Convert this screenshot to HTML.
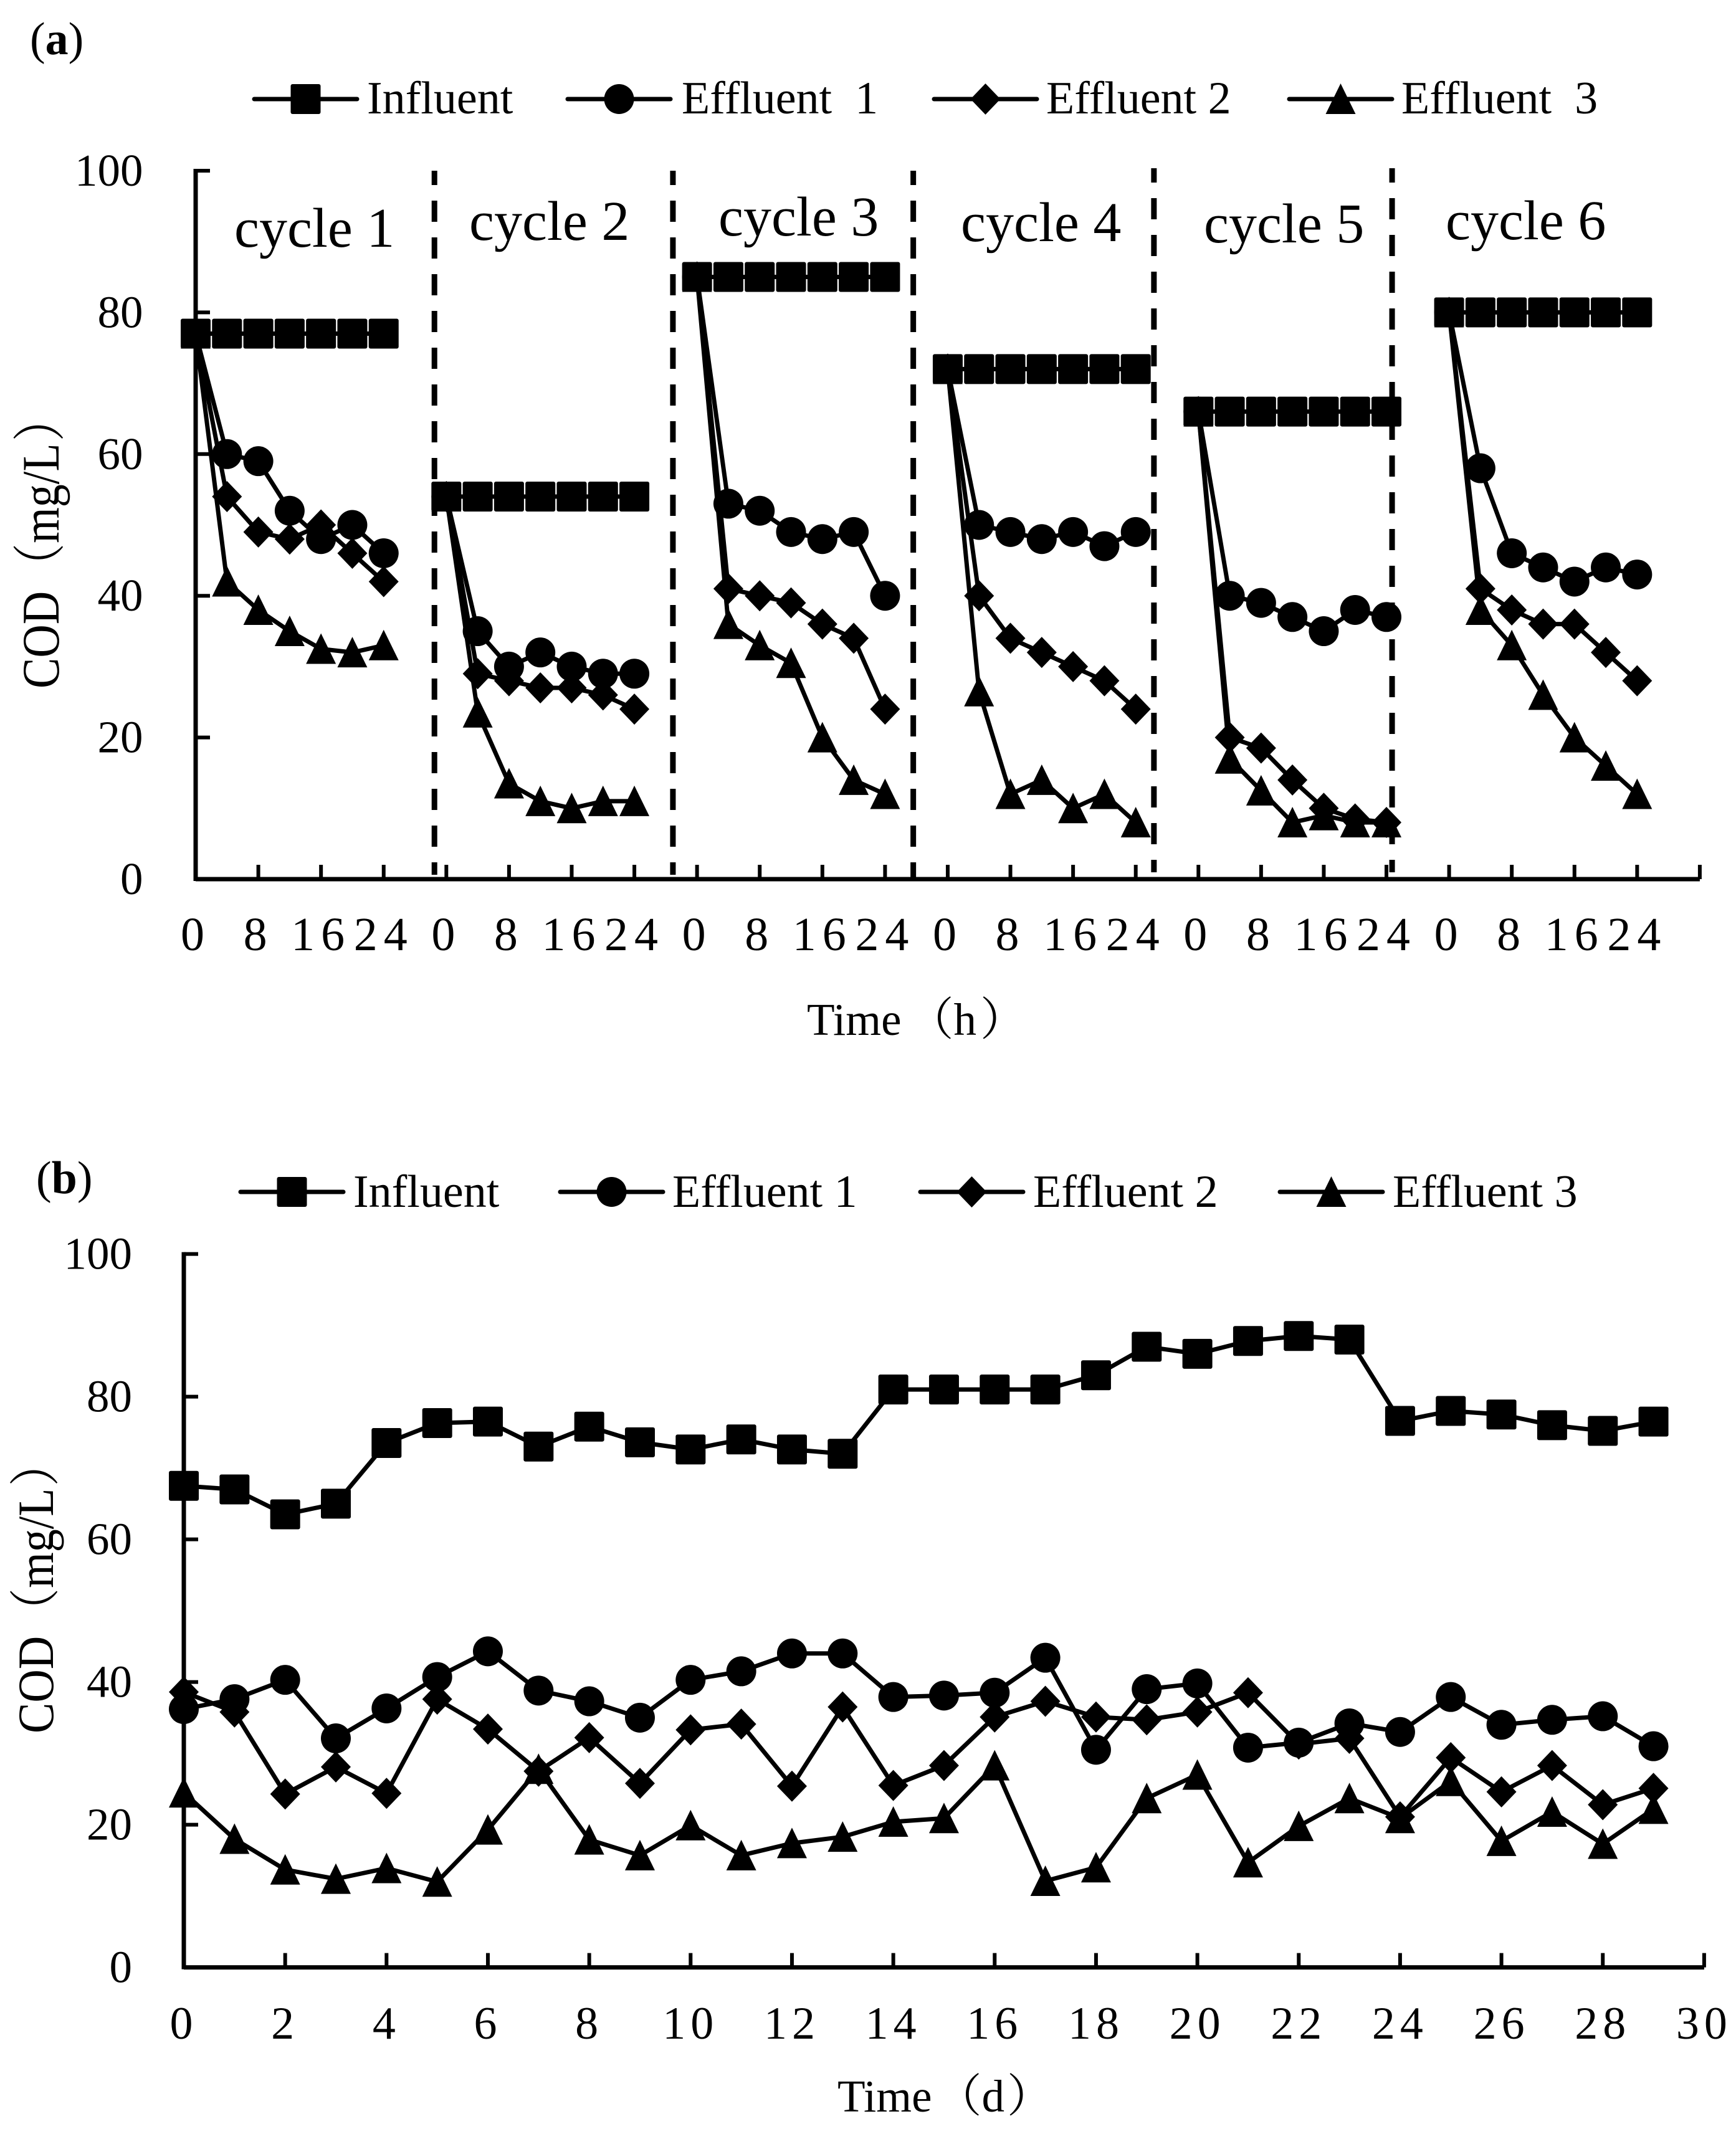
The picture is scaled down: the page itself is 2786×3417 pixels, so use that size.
<!DOCTYPE html>
<html lang="en">
<head>
<meta charset="utf-8">
<title>COD removal charts</title>
<style>
  html, body { margin: 0; padding: 0; background: #fff; }
  svg { display: block; }
  text { font-family: "Liberation Serif", "Noto Serif CJK SC", serif; fill: #000; white-space: pre; font-variant-ligatures: none; }
</style>
</head>
<body>
<svg id="figure" xmlns="http://www.w3.org/2000/svg" width="2786" height="3417" viewBox="0 0 2786 3417">
  <rect x="0" y="0" width="2786" height="3417" fill="#fff"/>

  <text x="48" y="87" font-size="74">(<tspan font-weight="bold">a</tspan>)</text>
  <text x="58" y="1915" font-size="74">(<tspan font-weight="bold">b</tspan>)</text>

  <text x="376" y="396" font-size="90">cycle 1</text>
  <text x="753" y="385" font-size="90">cycle 2</text>
  <text x="1153" y="378" font-size="90">cycle 3</text>
  <text x="1542" y="387" font-size="90">cycle 4</text>
  <text x="1932" y="389" font-size="90">cycle 5</text>
  <text x="2320" y="384" font-size="90">cycle 6</text>

  <text x="1295" y="1661" font-size="73">Time<tspan dx="11">（</tspan>h<tspan dx="6">）</tspan></text>
  <text x="1344" y="3389" font-size="73">Time<tspan dx="7">（</tspan>d<tspan dx="4">）</tspan></text>
  <text transform="translate(94,1105) rotate(-90) scale(1,1.15)" font-size="74">COD<tspan dx="3">（</tspan>mg/L<tspan dx="3">）</tspan></text>
  <text transform="translate(85,2782) rotate(-90) scale(1,1.1)" font-size="74">COD<tspan dx="3">（</tspan>mg/L<tspan dx="3">）</tspan></text>

  <g id="chart-a"></g>
  <g id="chart-b"></g>
  <g id="legend-a"></g>
  <g id="legend-b"></g>
</svg>

<script>
// ---------- Panel (a) data: one row per cycle, seven samples each ----------
const seriesNames = ['Influent', 'Effluent 1', 'Effluent 2', 'Effluent 3'];
const yTickLabels = ['0', '20', '40', '60', '80', '100'];
const yTickValues = [0, 20, 40, 60, 80, 100];
const xTickLabelsA = ['0', '8', '16', '24'];
const cycleBoundaries = [7.62, 15.23, 22.9, 30.58, 38.18];

const influentA = [
  [77, 77, 77, 77, 77, 77, 77],
  [54, 54, 54, 54, 54, 54, 54],
  [85, 85, 85, 85, 85, 85, 85],
  [72, 72, 72, 72, 72, 72, 72],
  [66, 66, 66, 66, 66, 66, 66],
  [80, 80, 80, 80, 80, 80, 80]
];
const effluent1A = [
  [77, 60, 59, 52, 48, 50, 46],
  [54, 35, 30, 32, 30, 29, 29],
  [85, 53, 52, 49, 48, 49, 40],
  [72, 50, 49, 48, 49, 47, 49],
  [66, 40, 39, 37, 35, 38, 37],
  [80, 58, 46, 44, 42, 44, 43]
];
const effluent2A = [
  [77, 54, 49, 48, 50, 46, 42],
  [54, 29, 28, 27, 27, 26, 24],
  [85, 41, 40, 39, 36, 34, 24],
  [72, 40, 34, 32, 30, 28, 24],
  [66, 20, 18.5, 14, 10, 8.5, 8],
  [80, 41, 38, 36, 36, 32, 28]
];
const effluent3A = [
  [77, 42, 38, 35, 32.5, 32, 33],
  [54, 23.5, 13.5, 11, 10, 11, 11],
  [85, 36, 33, 30.5, 20, 14, 12],
  [72, 26.5, 12, 14, 10, 12, 8],
  [66, 17, 12.5, 8, 9, 8, 8],
  [80, 38, 33, 26, 20, 16, 12]
];

// ---------- Panel (b) data: one value per day, days 0 to 29 ----------
const xTickLabelsB = ['0','2','4','6','8','10','12','14','16','18','20','22','24','26','28','30'];
const influentB = [67.5,67,63.5,65,73.5,76.3,76.5,73,75.8,73.6,72.6,74,72.6,72,81,81,81,81,83,87,86,87.8,88.5,88,76.6,78,77.5,76,75.2,76.5];
const effluent1B = [36.2,37.6,40.3,32.1,36.3,40.7,44.3,38.8,37.3,35,40.3,41.5,44,44,37.9,38.1,38.5,43.4,30.5,39,39.8,30.8,31.5,34.2,33,37.9,34,34.7,35.2,31];
const effluent2B = [38.6,35.8,24.3,28.1,24.4,37.6,33.4,27.5,32.2,25.8,33.3,34.1,25.4,36.5,25.5,28.3,35.1,37.3,35.1,34.7,35.8,38.5,31.3,32.1,21.1,29.4,24.6,28.3,22.8,25.1];
const effluent3B = [24.5,18,13.7,12.4,13.9,12,19.3,27.8,17.9,15.7,19.9,15.7,17.4,18.3,20.4,20.9,28.3,12.1,14,23.7,27,14.7,19.8,23.7,20.9,26.1,17.7,21.8,17.3,22.2];

// ---------- Axis functions ----------
function xA(index) { return 314 + index * 50.29; }
function yA(value) { return 1411 - value * 11.37; }
function xB(day) { return 295 + day * 81.33; }
function yB(value) { return 3157.6 - value * 11.45; }

const SVG_NS = 'http://www.w3.org/2000/svg';
const MARKER = 48;

function makeLine(parent, x1, y1, x2, y2, width) {
  const el = document.createElementNS(SVG_NS, 'line');
  el.setAttribute('x1', x1);
  el.setAttribute('y1', y1);
  el.setAttribute('x2', x2);
  el.setAttribute('y2', y2);
  el.setAttribute('stroke', '#000');
  el.setAttribute('stroke-width', width);
  parent.appendChild(el);
  return el;
}

function makeText(parent, content, x, y, size, anchor, spacing) {
  const el = document.createElementNS(SVG_NS, 'text');
  el.setAttribute('x', x);
  el.setAttribute('y', y);
  el.setAttribute('font-size', size);
  el.setAttribute('text-anchor', anchor);
  if (spacing) el.setAttribute('letter-spacing', spacing);
  el.textContent = content;
  parent.appendChild(el);
  return el;
}

// kind: 0 square, 1 circle, 2 diamond, 3 triangle
function drawMarker(parent, kind, cx, cy, seriesName) {
  const h = MARKER / 2;
  let el;
  if (kind === 0) {
    el = document.createElementNS(SVG_NS, 'rect');
    el.setAttribute('x', cx - h);
    el.setAttribute('y', cy - h);
    el.setAttribute('width', MARKER);
    el.setAttribute('height', MARKER);
    el.setAttribute('rx', 3);
  } else if (kind === 1) {
    el = document.createElementNS(SVG_NS, 'circle');
    el.setAttribute('cx', cx);
    el.setAttribute('cy', cy);
    el.setAttribute('r', h);
  } else if (kind === 2) {
    el = document.createElementNS(SVG_NS, 'polygon');
    el.setAttribute('points', [cx, cy - h - 1, cx + h, cy, cx, cy + h + 1, cx - h, cy].join(' '));
  } else {
    el = document.createElementNS(SVG_NS, 'polygon');
    el.setAttribute('points', [cx, cy - h - 1, cx + h, cy + h, cx - h, cy + h].join(' '));
  }
  el.setAttribute('fill', '#000');
  
  
  parent.appendChild(el);
}

function drawPolyline(parent, points, seriesName) {
  const el = document.createElementNS(SVG_NS, 'polyline');
  el.setAttribute('points', points.map(function (p) { return p[0] + ',' + p[1]; }).join(' '));
  el.setAttribute('fill', 'none');
  el.setAttribute('stroke', '#000');
  el.setAttribute('stroke-width', 7);
  el.setAttribute('stroke-linejoin', 'round');
  
  
  parent.appendChild(el);
}

function drawSeries(parent, kind, seriesName, points) {
  drawPolyline(parent, points, seriesName);
  points.forEach(function (p) { drawMarker(parent, kind, p[0], p[1], seriesName); });
}

function slug(name) { return name.toLowerCase().replace(' ', '-'); }

function drawYAxis(parent, x, yFn, labelRight, prefix) {
  const axis = makeLine(parent, x, yFn(100) - 3, x, yFn(0) + 3, 7);
  
  
  yTickValues.forEach(function (v, i) {
    const tick = makeLine(parent, x, yFn(v), x + 23, yFn(v), 6);
    
    
    const label = makeText(parent, yTickLabels[i], labelRight, yFn(v) + 24, 73, 'end');
    
    
  });
}

// ---------- Panel (a) ----------
(function () {
  const g = document.getElementById('chart-a');
  drawYAxis(g, xA(0), yA, 229.5, 'panel-a');

  const xAxis = makeLine(g, xA(0), yA(0), xA(48), yA(0), 7);
  
  

  for (let i = 0; i <= 48; i += 2) {
    const tick = makeLine(g, xA(i), yA(0), xA(i), yA(0) - 23, 6);
    
    
  }

  for (let c = 0; c < 6; c++) {
    xTickLabelsA.forEach(function (text, t) {
      const label = makeText(g, text, xA(c * 8 + t * 2), 1525, 76, 'middle', 10);
      
      
    });
  }

  cycleBoundaries.forEach(function (b, i) {
    const top = i < 3 ? 274 : 270;
    const bottom = i === 2 ? 1408 : (i < 2 ? 1404 : 1400);
    const divider = makeLine(g, xA(b), top, xA(b), bottom, 9);
    divider.setAttribute('stroke-dasharray', '34 25');
    divider.setAttribute('stroke-dashoffset', '11');
    
    
  });

  const tables = [influentA, effluent1A, effluent2A, effluent3A];
  tables.forEach(function (table, kind) {
    table.forEach(function (row, c) {
      const pts = row.map(function (v, j) { return [xA(c * 8 + j), yA(v)]; });
      drawSeries(g, kind, 'panel-a-' + slug(seriesNames[kind]), pts);
    });
  });
})();

// ---------- Panel (b) ----------
(function () {
  const g = document.getElementById('chart-b');
  drawYAxis(g, xB(0), yB, 212, 'panel-b');

  const xAxis = makeLine(g, xB(0), yB(0), xB(30), yB(0), 7);
  
  

  xTickLabelsB.forEach(function (text) {
    const day = Number(text);
    const tick = makeLine(g, xB(day), yB(0), xB(day), yB(0) - 23, 6);
    
    
    const label = makeText(g, text, xB(day), 3272, 74, 'middle', 8);
    
    
  });

  const lists = [influentB, effluent1B, effluent2B, effluent3B];
  lists.forEach(function (values, kind) {
    const pts = values.map(function (v, d) { return [xB(d), yB(v)]; });
    drawSeries(g, kind, 'panel-b-' + slug(seriesNames[kind]), pts);
  });
})();

// ---------- Legends ----------
const legendTextA = ['Influent', 'Effluent  1', 'Effluent 2', 'Effluent  3'];
const legendTextB = ['Influent', 'Effluent 1', 'Effluent 2', 'Effluent 3'];

function drawLegend(parentId, texts, lineStarts, textStarts, cy, baseline) {
  const g = document.getElementById(parentId);
  texts.forEach(function (text, i) {
    const x0 = lineStarts[i];
    const key = makeLine(g, x0, cy, x0 + 165, cy, 7);
    key.setAttribute('stroke-linecap', 'round');
    
    
    drawMarker(g, i, x0 + 82.5, cy, 'legend-' + slug(seriesNames[i]));
    const label = makeText(g, text, textStarts[i], baseline, 74, 'start');
    
    
  });
}

drawLegend('legend-a', legendTextA, [408, 911, 1499, 2069], [589, 1094, 1679, 2249], 159, 182);
drawLegend('legend-b', legendTextB, [386, 899, 1477, 2054], [567, 1079, 1658, 2235], 1913, 1937);
</script>
</body>
</html>
